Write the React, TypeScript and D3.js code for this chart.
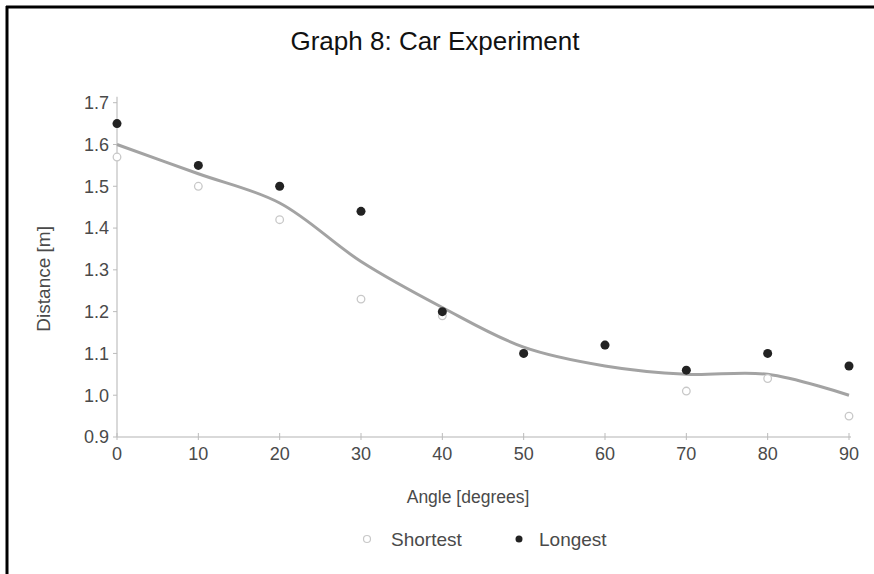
import React from "react";
import * as d3 from "d3";

const angles = [0, 10, 20, 30, 40, 50, 60, 70, 80, 90];
const shortest = [1.57, 1.5, 1.42, 1.23, 1.19, 1.1, 1.12, 1.01, 1.04, 0.95];
const longest = [1.65, 1.55, 1.5, 1.44, 1.2, 1.1, 1.12, 1.06, 1.1, 1.07];
const trend = [1.6, 1.53, 1.46, 1.32, 1.21, 1.115, 1.07, 1.05, 1.05, 1.0];
const yTicks = [0.9, 1.0, 1.1, 1.2, 1.3, 1.4, 1.5, 1.6, 1.7];
const xTicks = [0, 10, 20, 30, 40, 50, 60, 70, 80, 90];
const title = "Graph 8: Car Experiment";
const xLabel = "Angle [degrees]";
const yLabel = "Distance [m]";
const legendLabels = ["Shortest", "Longest"];

const W = 874;
const H = 574;
const left = 117;
const right = 849;
const top = 102.7;
const bottom = 437;

export default function App() {
  const x = d3.scaleLinear().domain([0, 90]).range([left, right]);
  const y = d3.scaleLinear().domain([0.9, 1.7]).range([bottom, top]);
  const line = d3
    .line<number>()
    .x((_, i) => x(angles[i]))
    .y((d) => y(d))
    .curve(d3.curveCatmullRom.alpha(0.5));
  const font = "Liberation Sans, Arial, sans-serif";
  const tickColor = "#4a4a4a";
  return (
    <svg
      width={W}
      height={H}
      style={{ position: "absolute", left: 0, top: 0, background: "#fff" }}
      fontFamily={font}
    >
      <rect x={0} y={0} width={W} height={H} fill="#fff" />
      <line x1={6} y1={7} x2={W} y2={7} stroke="#000" strokeWidth={3} />
      <line x1={7} y1={6} x2={7} y2={H} stroke="#000" strokeWidth={3} />
      <text x={435} y={50} textAnchor="middle" fontSize={26} fill="#111">
        {title}
      </text>
      {/* axes */}
      <line x1={left} y1={top - 6} x2={left} y2={bottom} stroke="#ccc" strokeWidth={1.5} />
      <line x1={left} y1={bottom} x2={right + 2} y2={bottom} stroke="#ccc" strokeWidth={1.5} />
      {yTicks.map((t) => (
        <g key={"y" + t}>
          <line x1={left - 4} x2={left} y1={y(t)} y2={y(t)} stroke="#bbb" />
          <text
            x={left - 8}
            y={y(t)}
            dy="0.35em"
            textAnchor="end"
            fontSize={18}
            fill={tickColor}
          >
            {t.toFixed(1)}
          </text>
        </g>
      ))}
      {xTicks.map((t) => (
        <g key={"x" + t}>
          <line x1={x(t)} x2={x(t)} y1={bottom - 4} y2={bottom + 3} stroke="#bbb" />
          <text x={x(t)} y={bottom + 23} textAnchor="middle" fontSize={18} fill={tickColor}>
            {t}
          </text>
        </g>
      ))}
      <text
        transform={`translate(50,${(top + bottom) / 2 + 9}) rotate(-90)`}
        textAnchor="middle"
        fontSize={19}
        fill={tickColor}
      >
        {yLabel}
      </text>
      <text x={468} y={503} textAnchor="middle" fontSize={17.5} fill={tickColor}>
        {xLabel}
      </text>
      {/* trend */}
      <path d={line(trend) || ""} fill="none" stroke="#a3a3a3" strokeWidth={3} />
      {/* points */}
      {shortest.map((v, i) => (
        <circle
          key={"s" + i}
          cx={x(angles[i])}
          cy={y(v)}
          r={3.8}
          fill="#fff"
          stroke="#c8c8c8"
          strokeWidth={1.3}
        />
      ))}
      {longest.map((v, i) => (
        <circle key={"l" + i} cx={x(angles[i])} cy={y(v)} r={4.5} fill="#222" />
      ))}
      {/* legend */}
      <circle cx={367} cy={539} r={3.5} fill="#fff" stroke="#c8c8c8" strokeWidth={1.2} />
      <text x={391} y={546} fontSize={19} fill={tickColor}>
        {legendLabels[0]}
      </text>
      <circle cx={519} cy={539} r={3.5} fill="#222" />
      <text x={539} y={546} fontSize={19} fill={tickColor}>
        {legendLabels[1]}
      </text>
    </svg>
  );
}
